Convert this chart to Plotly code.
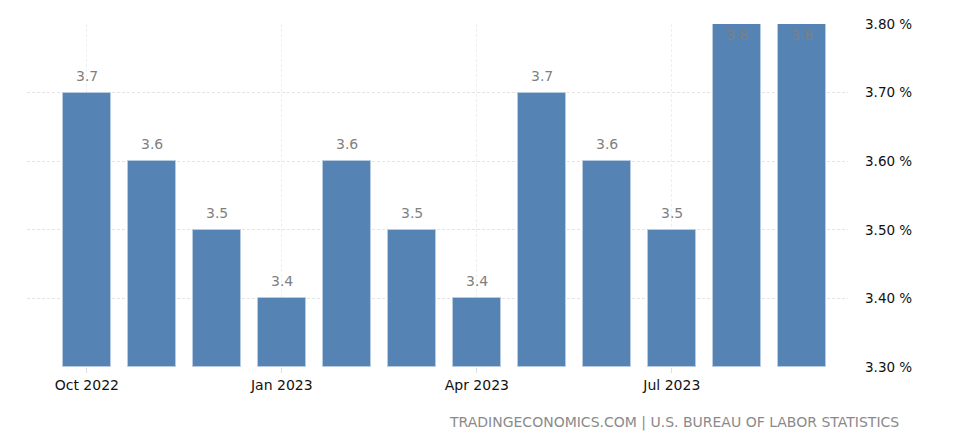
import plotly.graph_objects as go

months = ["Oct 2022", "Nov 2022", "Dec 2022", "Jan 2023", "Feb 2023", "Mar 2023",
          "Apr 2023", "May 2023", "Jun 2023", "Jul 2023", "Aug 2023", "Sep 2023"]
values = [3.7, 3.6, 3.5, 3.4, 3.6, 3.5, 3.4, 3.7, 3.6, 3.5, 3.8, 3.8]
tick_labels = ["Oct 2022", "Jan 2023", "Apr 2023", "Jul 2023"]
y_ticks = [3.3, 3.4, 3.5, 3.6, 3.7, 3.8]

y_min, y_max = 3.3, 3.8
xs = list(range(len(months)))
tick_pos = [months.index(t) for t in tick_labels]

fig = go.Figure()
fig.add_trace(go.Bar(
    x=xs, y=[v - y_min for v in values], base=y_min,
    marker=dict(color="#5583b4", line=dict(color="#b9cbe0", width=1)),
    width=0.74, hoverinfo="skip",
))

for x, v in zip(xs, values):
    inside = v >= y_max
    fig.add_annotation(
        x=x, y=v, text=f"{v:.1f}", showarrow=False,
        yshift=-11 if inside else 17,
        font=dict(family="DejaVu Sans", size=14, color="#7f7f7f"),
    )

fig.add_annotation(
    xref="paper", yref="paper", x=1.065, y=-0.163, xanchor="right", yanchor="middle",
    text="TRADINGECONOMICS.COM | U.S. BUREAU OF LABOR STATISTICS", showarrow=False,
    font=dict(family="DejaVu Sans", size=14, color="#8a8a8a"),
)

fig.update_layout(
    width=959, height=446,
    margin=dict(l=19, r=119, t=16, b=87, autoexpand=False),
    paper_bgcolor="white", plot_bgcolor="white",
    showlegend=False,
    xaxis=dict(
        range=[-0.92, 11.71], tickvals=tick_pos, ticktext=tick_labels,
        showgrid=True, gridcolor="#efefef", griddash="3px,2px", gridwidth=1,
        ticks="outside", ticklen=5, tickcolor="#dddddd",
        tickfont=dict(family="DejaVu Sans", size=14, color="#111111"),
        zeroline=False, showline=False, fixedrange=True, automargin=False,
    ),
    yaxis=dict(
        range=[y_min, y_max], side="right", tickvals=y_ticks,
        ticktext=[f"{t:.2f} %" for t in y_ticks],
        showgrid=True, gridcolor="#e4e4e4", griddash="3px,2px", gridwidth=1,
        ticks="", ticklabelstandoff=16,
        tickfont=dict(family="DejaVu Sans", size=13.5, color="#111111"),
        zeroline=False, showline=False, fixedrange=True, automargin=False,
    ),
    bargap=0,
)

fig.write_html("out.html")
